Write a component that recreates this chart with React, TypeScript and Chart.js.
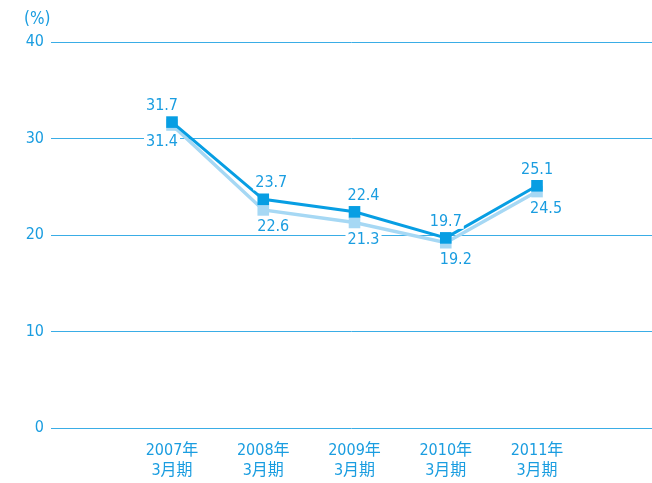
import { useEffect, useRef } from 'react';
import { Chart, registerables } from 'chart.js';

Chart.register(...registerables);

const years = ['2007年', '2008年', '2009年', '2010年', '2011年'];
const period = '3月期';
const seriesDark = [31.7, 23.7, 22.4, 19.7, 25.1];
const seriesLight = [31.4, 22.6, 21.3, 19.2, 24.5];
const yTicks = [0, 10, 20, 30, 40];
const unitLabel = '(%)';

const FONT = '"DejaVu Sans Condensed", Roboto, "Noto Sans CJK JP", sans-serif';
const TEXT = '#1a9de0';
const DARK = '#079ee3';
const LIGHT = '#a6d8f4';
const GRID = '#3aade6';

// label placement (style only)
const darkDx = [-10, 8, 9, 0, 0];
const lightDx = [-10, 10, 9, 10, 9];

const labelPlugin = {
  id: 'valueLabels',
  afterDatasetsDraw(chart: any) {
    const ctx = chart.ctx;
    ctx.save();
    ctx.font = `16px ${FONT}`;
    ctx.textAlign = 'center';
    ctx.textBaseline = 'middle';
    const draw = (text: string, x: number, y: number) => {
      const w = ctx.measureText(text).width;
      ctx.fillStyle = '#ffffff';
      ctx.fillRect(x - w / 2 - 2, y - 7, w + 4, 14);
      ctx.fillStyle = TEXT;
      ctx.fillText(text, x, y);
    };
    const mDark = chart.getDatasetMeta(0);
    const mLight = chart.getDatasetMeta(1);
    mLight.data.forEach((p: any, i: number) => {
      draw(seriesLight[i].toFixed(1), p.x + lightDx[i], p.y + 17);
    });
    mDark.data.forEach((p: any, i: number) => {
      draw(seriesDark[i].toFixed(1), p.x + darkDx[i], p.y - 16);
    });
    ctx.font = `17px ${FONT}`;
    ctx.textAlign = 'left';
    ctx.fillStyle = TEXT;
    ctx.fillText(unitLabel, 24, 20);
    ctx.restore();
  },
};

export default function App() {
  const ref = useRef<HTMLCanvasElement>(null);
  useEffect(() => {
    if (!ref.current) return;
    const chart = new Chart(ref.current, {
      type: 'line',
      data: {
        datasets: [
          {
            label: 'dark',
            data: seriesDark.map((v, i) => ({ x: i + 1, y: v })),
            borderColor: DARK,
            backgroundColor: DARK,
            borderWidth: 3,
            pointStyle: 'rect',
            pointRadius: 8.2,
            pointBorderWidth: 0,
            order: 0,
          },
          {
            label: 'light',
            data: seriesLight.map((v, i) => ({ x: i + 1, y: v })),
            borderColor: LIGHT,
            backgroundColor: LIGHT,
            borderWidth: 3.5,
            pointStyle: 'rect',
            pointRadius: 8.2,
            pointBorderWidth: 0,
            order: 1,
          },
        ],
      },
      options: {
        responsive: false,
        animation: false,
        layout: { autoPadding: false, padding: { top: 42, left: 0, right: 0, bottom: 0 } },
        plugins: { legend: { display: false }, tooltip: { enabled: false } },
        scales: {
          x: {
            type: 'linear',
            min: -0.326,
            max: 6.26,
            grid: { display: false },
            border: { display: false },
            afterBuildTicks: (axis: any) => {
              axis.ticks = years.map((_, i) => ({ value: i + 1 }));
            },
            afterFit: (s: any) => {
              s.height = 55;
              s.paddingLeft = 0;
              s.paddingRight = 0;
            },
            ticks: {
              autoSkip: false,
              maxRotation: 0,
              color: TEXT,
              padding: 4,
              font: { family: FONT, size: 16, lineHeight: 1.3 },
              callback: (v: any) => [years[Number(v) - 1], period],
            },
          },
          y: {
            min: 0,
            max: 40,
            afterBuildTicks: (axis: any) => {
              axis.ticks = yTicks.map((v) => ({ value: v }));
            },
            afterFit: (s: any) => {
              s.width = 51;
            },
            grid: { color: GRID, lineWidth: 1, drawTicks: false },
            border: { display: false },
            ticks: {
              color: TEXT,
              padding: 7,
              font: { family: FONT, size: 16 },
            },
          },
        },
      },
      plugins: [labelPlugin],
    });
    return () => chart.destroy();
  }, []);
  return (
    <div style={{ position: 'absolute', left: 0, top: 0, width: 652, height: 483, background: '#fff' }}>
      <canvas ref={ref} width={652} height={483} />
    </div>
  );
}
